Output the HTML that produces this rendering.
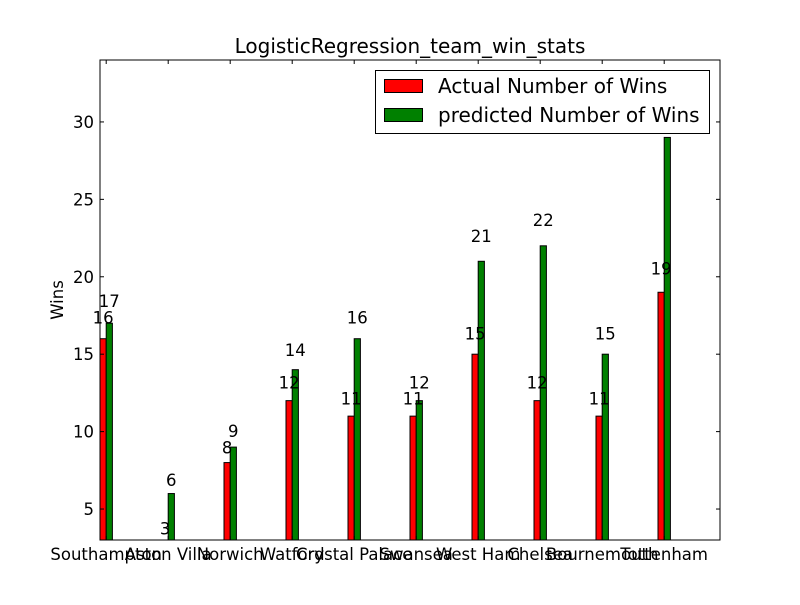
<!DOCTYPE html>
<html><head><meta charset="utf-8"><style>
body{margin:0;background:#fff}
svg text{font-family:"DejaVu Sans","Liberation Sans",sans-serif;fill:#000}
</style></head><body>
<svg id="c" width="800" height="600"></svg>
<script>
const teams=["Southampton","Aston Villa","Norwich","Watford","Crystal Palace","Swansea","West Ham","Chelsea","Bournemouth","Tottenham"];
const actual=[16,3,8,12,11,11,15,12,11,19];
const predicted=[17,6,9,14,16,12,21,22,15,29];
const yTicks=[5,10,15,20,25,30];
const L=100,R=720,T=60,B=540,y0=3,y1=34,x0=0,x1=10;
const sx=v=>L+(v-x0)/(x1-x0)*(R-L);
const sy=v=>B-(v-y0)/(y1-y0)*(B-T);
const svg=document.getElementById('c');
const NS='http://www.w3.org/2000/svg';
function mk(t,a,txt){const e=document.createElementNS(NS,t);for(const k in a)e.setAttribute(k,a[k]);if(txt!=null)e.textContent=txt;svg.appendChild(e);return e;}
const w=0.1;
const series=[[actual,'#ff0000',0,'actual'],[predicted,'#008000',w,'predicted']];
teams.forEach((t,i)=>{
 series.forEach(([arr,col,off,nm])=>{
  const v=arr[i];const xa=sx(i+off),xb=sx(i+off+w);
  const top=Math.max(sy(v),T);
  const r=mk('rect',{x:xa,y:top,width:xb-xa,height:Math.max(B-top,0),fill:col,stroke:'#000','stroke-width':1});
  
  
 });
});
teams.forEach((t,i)=>{
 series.forEach(([arr,col,off,nm])=>{
  const v=arr[i];const xa=sx(i+off),xb=sx(i+off+w);
  const lb=mk('text',{x:(xa+xb)/2,y:sy(v*1.05)-3,'text-anchor':'middle','font-size':16.5},String(v));
  
  
 });
 const tl=mk('text',{x:sx(i+w),y:560,'text-anchor':'middle','font-size':16.5},t);
 
 
});
yTicks.forEach(v=>{
 const y=sy(v);
 mk('line',{x1:L,x2:L+4,y1:y,y2:y,stroke:'#000'});
 mk('line',{x1:R-4,x2:R,y1:y,y2:y,stroke:'#000'});
 const t=mk('text',{x:L-6,y:y+6,'text-anchor':'end','font-size':16.5},String(v));
 
 
});
teams.forEach((t,i)=>{const x=sx(i+w);mk('line',{x1:x,x2:x,y1:B,y2:B-4,stroke:'#000'});mk('line',{x1:x,x2:x,y1:T,y2:T+4,stroke:'#000'});});
const ax=mk('rect',{x:L,y:T,width:R-L,height:B-T,fill:'none',stroke:'#000','stroke-width':1});


const ti=mk('text',{x:410,y:53,'text-anchor':'middle','font-size':20},'LogisticRegression_team_win_stats');


const yl=mk('text',{x:63,y:300,'text-anchor':'middle','font-size':16.5,transform:'rotate(-90 63 300)'},'Wins');


const lg=mk('rect',{x:375.5,y:70.5,width:334,height:63,fill:'#fff',stroke:'#000'});


mk('rect',{x:384.5,y:79.5,width:38,height:13,fill:'#ff0000',stroke:'#000'});
mk('rect',{x:384.5,y:108.5,width:38,height:13,fill:'#008000',stroke:'#000'});
const l1=mk('text',{x:438,y:93,'font-size':20},'Actual Number of Wins');


const l2=mk('text',{x:438,y:122,'font-size':20},'predicted Number of Wins');


</script>
</body></html>
